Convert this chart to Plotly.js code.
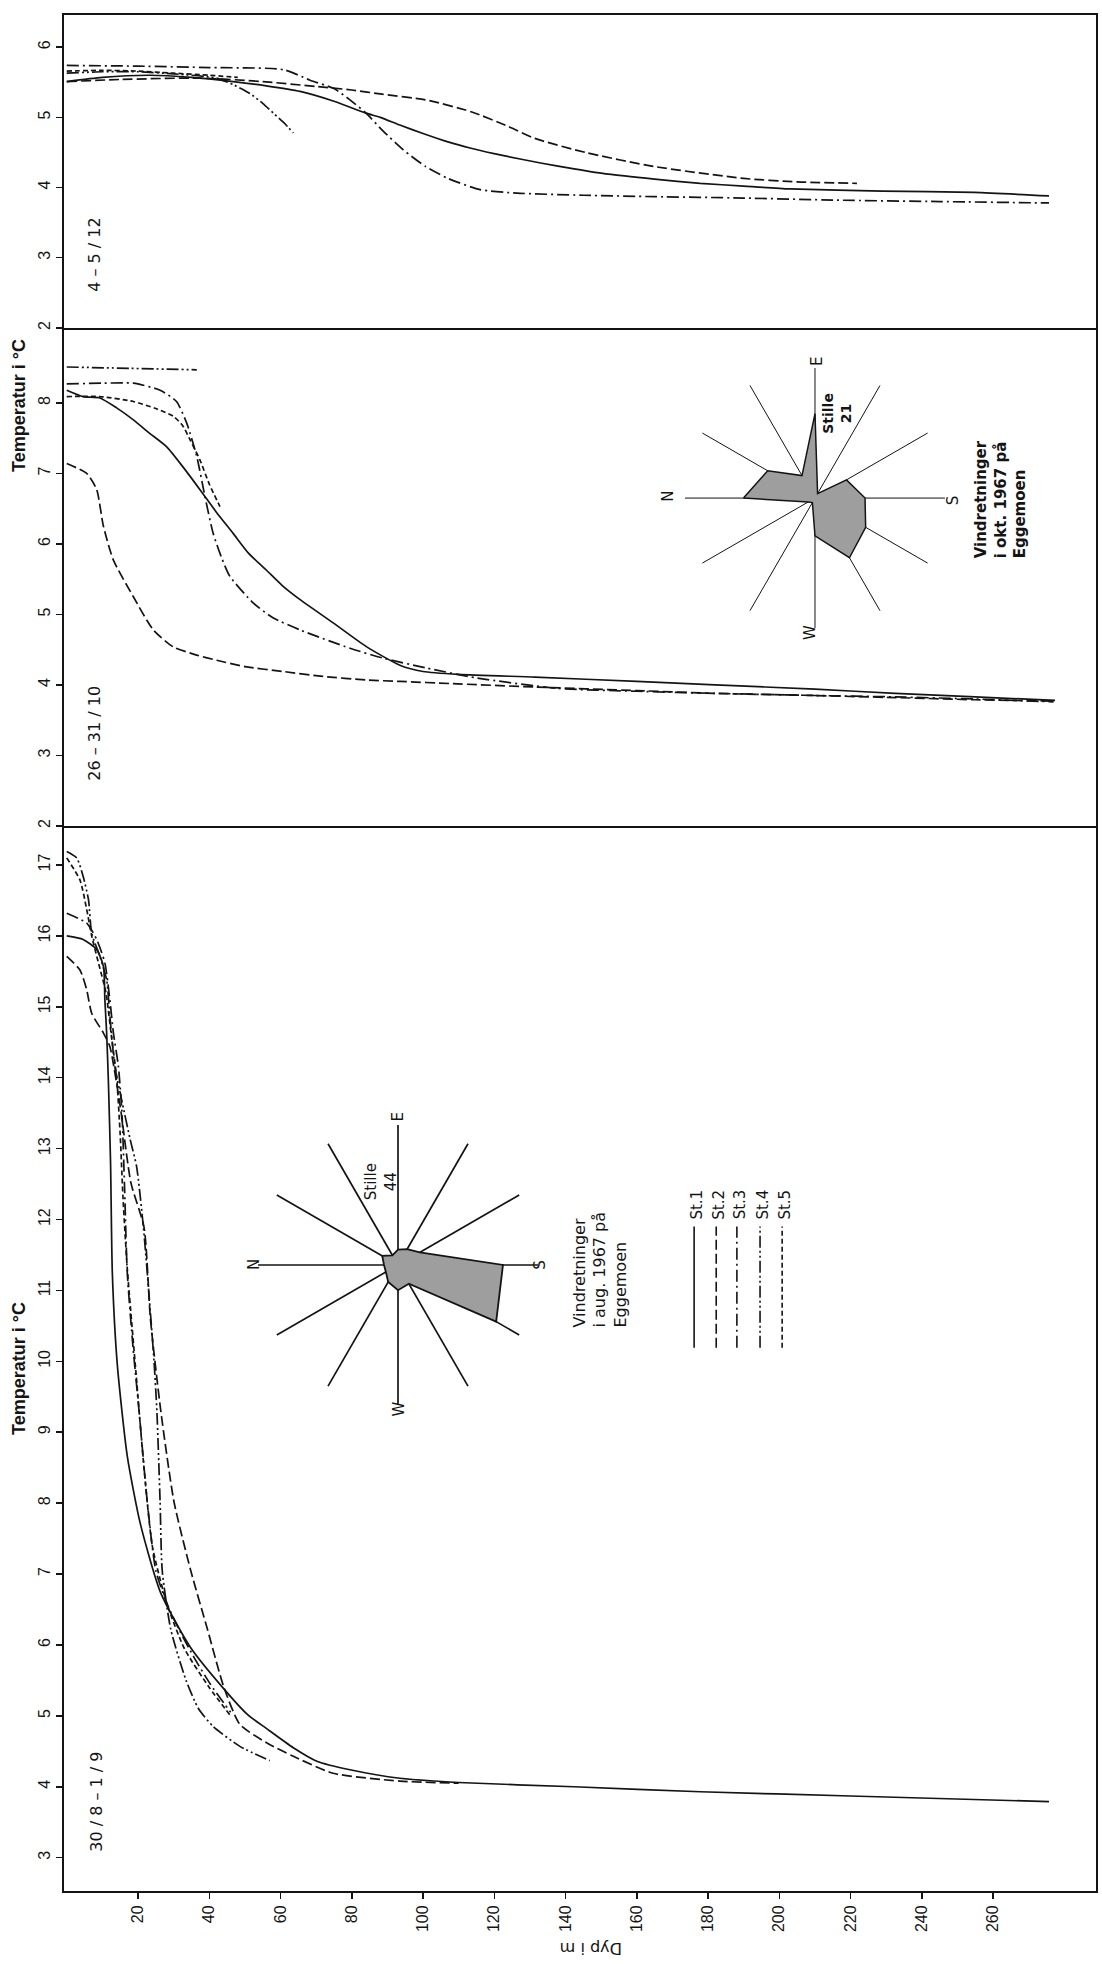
<!DOCTYPE html>
<html>
<head>
<meta charset="utf-8">
<script src="https://cdn.plot.ly/plotly-3.0.1.min.js"></script>
<style>
html,body{margin:0;padding:0;background:#fff;}
#chart{width:1102px;height:1964px;}
</style>
</head>
<body>
<div id="chart"></div>
<script>
// ---------- axis ticks ----------
const depthTicks = [20,40,60,80,100,120,140,160,180,200,220,240,260];
const tempTicksAug = [3,4,5,6,7,8,9,10,11,12,13,14,15,16,17];
const tempTicksOct = [2,3,4,5,6,7,8];
const tempTicksDec = [2,3,4,5,6];
const stationNames = ["St.1","St.2","St.3","St.4","St.5"];

// ---------- Panel 1 (top): 4-5/12 ----------
const dec_st1_depth = [0,10,23.4,35,46.7,56,65.5,75,84,88,93.5,100,107,113.5,123,133,142,152,165,177.8,190,203,229,254.7,275.7];
const dec_st1_temp  = [5.51,5.57,5.6,5.57,5.51,5.45,5.37,5.23,5.06,5.0,4.89,4.77,4.65,4.56,4.45,4.35,4.27,4.19,4.12,4.06,4.02,3.98,3.95,3.93,3.88];
const dec_st2_depth = [0,15,37.4,55,70,80,88.5,100.7,113.5,124,131.4,145.6,164.8,190,205,221.8];
const dec_st2_temp  = [5.51,5.54,5.56,5.51,5.44,5.39,5.33,5.25,5.08,4.87,4.70,4.50,4.30,4.13,4.08,4.06];
const dec_st3_depth = [0,20,40,60.8,68.3,75,79.5,84,88.9,94.4,100.7,107,116,126.4,145,164.8,190,216,245,275.7];
const dec_st3_temp  = [5.74,5.73,5.71,5.68,5.53,5.41,5.25,5.06,4.80,4.54,4.30,4.13,3.97,3.92,3.89,3.87,3.85,3.82,3.80,3.78];
const dec_st4_depth = [0,10,20,30,42,47,51.4,55,58,61,63.6];
const dec_st4_temp  = [5.63,5.65,5.65,5.62,5.56,5.46,5.34,5.20,5.06,4.92,4.78];
const dec_st5_depth = [0,10,20,30,40,48];
const dec_st5_temp  = [5.66,5.67,5.66,5.63,5.60,5.57];

// ---------- Panel 2 (middle): 26-31/10 ----------
const oct_st1_depth = [0,4.6,9.3,14,18.7,23,28,32.5,37.4,42,46.7,51,56,60.5,65.5,74.8,84.2,93.5,100,110,131.4,160,182,210,232.6,255,277.4];
const oct_st1_temp  = [8.18,8.09,8.07,7.93,7.76,7.58,7.38,7.10,6.77,6.45,6.15,5.87,5.63,5.41,5.21,4.88,4.54,4.28,4.19,4.15,4.11,4.05,4.0,3.94,3.88,3.83,3.78];
const oct_st2_depth = [0,5.6,8.4,10.3,13.1,18.7,24.3,29.9,36,42.1,50,60.8,72,84.2,93.5,107.6,131.4,160,182,210,232.6,255,277];
const oct_st2_temp  = [7.14,7.0,6.77,6.25,5.77,5.25,4.78,4.54,4.43,4.35,4.26,4.19,4.12,4.07,4.05,4.02,3.97,3.92,3.88,3.85,3.82,3.79,3.77];
const oct_st3_depth = [0,10,18.7,26.2,30.8,33.7,36.5,38.8,41.1,43.5,45.8,52.4,58,65.5,79.5,88.8,101,115,137.8,160,182,210,232.6,255,277];
const oct_st3_temp  = [8.27,8.28,8.28,8.18,8.02,7.71,7.24,6.67,6.15,5.80,5.54,5.16,4.95,4.78,4.52,4.38,4.24,4.10,3.95,3.91,3.88,3.85,3.83,3.80,3.76];
const oct_st4_depth = [0,18,36.5];
const oct_st4_temp  = [8.51,8.49,8.47];
const oct_st5_depth = [0,9.3,18.7,25,29.9,32.5,34.6,37.4,40,43];
const oct_st5_temp  = [8.09,8.09,8.02,7.92,7.81,7.68,7.48,7.19,6.85,6.53];

// ---------- Panel 3 (bottom): 30/8 - 1/9 ----------
const aug_st1_depth = [0,4.6,8.4,10.3,10.7,11.2,11.7,12.3,12.8,14.2,17,20.7,26.4,34.8,44.1,50.7,56.1,63.6,70.2,79.5,93.5,110,142.4,177.8,220,275.7];
const aug_st1_temp  = [16.0,15.95,15.81,15.57,15.1,14.63,13.93,12.8,11.24,9.95,8.66,7.70,6.73,5.96,5.38,5.02,4.82,4.55,4.36,4.24,4.12,4.06,4.0,3.93,3.87,3.79];
const aug_st2_depth = [0,3.7,5.6,7,10.3,12.1,15,18,21.7,23.5,26.4,30.1,34.8,39.5,44,48.6,56.1,63.6,74.8,93.5,110];
const aug_st2_temp  = [15.71,15.52,15.24,14.91,14.63,14.44,13.6,12.52,11.89,10.59,9.3,8.02,7.05,6.22,5.42,4.88,4.62,4.43,4.19,4.08,4.05];
const aug_st3_depth = [0,5.6,8.4,10.7,12.1,13.1,14.5,15.5,16.2,17,18.6,20.3,22.6,25,28,31.5,36,40.4,46];
const aug_st3_temp  = [16.32,16.18,15.95,15.62,15.1,14.63,14.16,13.5,12.5,11.24,10.2,9.3,8.02,7.05,6.6,6.22,5.8,5.44,5.05];
const aug_st4_depth = [0,2.8,4.6,6.1,7,9.3,11.2,12.1,13.5,15.4,17.8,19.6,21.5,23,24.5,25.3,26.2,26.8,29.2,33.5,37,41.1,48.6,57];
const aug_st4_temp  = [17.19,17.1,16.84,16.51,16.04,15.71,15.38,14.87,14.16,13.69,13.13,12.75,11.9,11.0,10.0,9.3,8.02,7.05,6.22,5.5,5.1,4.85,4.57,4.37];
const aug_st5_depth = [0,3.7,5.5,7,9,11,12.5,14,15,15.8,17,19.5,21.5,24,28,33,40,46];
const aug_st5_temp  = [17.1,16.79,16.4,16.0,15.6,15.2,14.6,14.0,13.2,12.3,11.3,9.8,8.6,7.4,6.6,5.95,5.4,5.0];

// ---------- Wind roses (relative frequency per 30° sector, N clockwise) ----------
const roseDirections = [0,30,60,90,120,150,180,210,240,270,300,330];
const roseAug = [1.0,1.3,0.8,1.1,1.3,1.8,7.5,8.1,1.55,1.8,1.4,1.0];
const roseOct = [5.5,4.2,2.0,6.5,0.4,2.8,3.85,4.5,5.3,2.9,0.4,0.6];
const stilleAug = 44;
const stilleOct = 21;

// ---------- styles ----------
const INK = '#141414';
const FONT = 'Liberation Sans, Arial, sans-serif';
const WFONT = 'DejaVu Sans, Liberation Sans, sans-serif';
const dashes = ['solid','10px,4px','12px,4px,2px,4px','12px,3px,2px,3px,2px,3px','5px,3px'];

const traces = [];
function addPanel(depths, temps, xa, ya) {
  for (let i = 0; i < depths.length; i++) {
    traces.push({
      type: 'scatter', mode: 'lines', x: depths[i], y: temps[i],
      xaxis: xa, yaxis: ya, name: stationNames[i], showlegend: false,
      hoverinfo: 'skip',
      line: {color: INK, width: 1.7, dash: dashes[i], shape: 'spline', smoothing: 0.6}
    });
  }
}
addPanel([aug_st1_depth,aug_st2_depth,aug_st3_depth,aug_st4_depth,aug_st5_depth],
         [aug_st1_temp,aug_st2_temp,aug_st3_temp,aug_st4_temp,aug_st5_temp],'x','y');
addPanel([oct_st1_depth,oct_st2_depth,oct_st3_depth,oct_st4_depth,oct_st5_depth],
         [oct_st1_temp,oct_st2_temp,oct_st3_temp,oct_st4_temp,oct_st5_temp],'x2','y2');
addPanel([dec_st1_depth,dec_st2_depth,dec_st3_depth,dec_st4_depth,dec_st5_depth],
         [dec_st1_temp,dec_st2_temp,dec_st3_temp,dec_st4_temp,dec_st5_temp],'x3','y3');

function closeRing(a){ return a.concat([a[0]]); }
traces.push({type:'scatterpolar', subplot:'polar', r: closeRing(roseAug), theta: closeRing(roseDirections),
  mode:'lines', fill:'toself', fillcolor:'rgb(158,158,158)',
  line:{color:INK,width:1.8}, showlegend:false, hoverinfo:'skip'});
traces.push({type:'scatterpolar', subplot:'polar2', r: closeRing(roseOct), theta: closeRing(roseDirections),
  mode:'lines', fill:'toself', fillcolor:'rgb(158,158,158)',
  line:{color:INK,width:1.5}, showlegend:false, hoverinfo:'skip'});

const yCommon = {
  tickmode:'array', tickangle: -90, ticks: 'outside', ticklen: 6, tickwidth: 1.5,
  tickcolor: INK, showline: true, linecolor: INK, linewidth: 2, mirror: true,
  showgrid: false, zeroline: false, tickfont: {family: FONT, size: 16, color: INK}
};
const xCommon = {
  range: [-0.77, 288.9], showgrid: false, zeroline: false, showline: true, linecolor: INK
};

function polarLayout(dom, spokeW) {
  return {
    domain: dom, bgcolor: 'rgba(0,0,0,0)',
    angularaxis: {rotation: 180, direction: 'clockwise', showline: false, showticklabels: false,
      ticks: '', showgrid: true, gridcolor: INK, gridwidth: spokeW, tickmode: 'linear', tick0: 0, dtick: 30},
    radialaxis: {visible: false, range: [0, 10]}
  };
}

const annFont = (s, fam) => ({family: fam || FONT, size: s, color: INK});
function rot(text, x, y, xref, yref, size, extra, fam) {
  return Object.assign({text: text, x: x, y: y, xref: xref, yref: yref, showarrow: false,
    textangle: -90, font: annFont(size, fam), xanchor: 'center', yanchor: 'middle'}, extra || {});
}

const annotations = [
  // axis titles
  rot('<b>Temperatur i °C</b>', -0.0436, 0.7916, 'paper', 'paper', 18),
  rot('<b>Temperatur i °C</b>', -0.0436, 0.2783, 'paper', 'paper', 18),
  {text: 'Dyp i m', x: 147, y: -0.031, xref: 'x', yref: 'paper', showarrow: false,
   textangle: 180, font: annFont(16, WFONT), xanchor: 'center', yanchor: 'middle'},
  // panel labels
  rot('4 – 5 / 12', 7.9, 3.04, 'x3', 'y3', 16, null, WFONT),
  rot('26 – 31 / 10', 7.9, 3.32, 'x2', 'y2', 16, null, WFONT),
  rot('30 / 8 – 1 / 9', 8.5, 3.79, 'x', 'y', 16, null, WFONT),
  // bottom rose texts
  rot('N', 52.6, 11.36, 'x', 'y', 15, null, WFONT),
  rot('E', 93, 13.44, 'x', 'y', 15, null, WFONT),
  rot('S', 132.8, 11.36, 'x', 'y', 15, null, WFONT),
  rot('W', 93, 9.32, 'x', 'y', 15, null, WFONT),
  rot('Stille<br>' + stilleAug, 88.3, 12.53, 'x', 'y', 15, null, WFONT),
  rot('Vindretninger<br>i aug. 1967 på<br>Eggemoen', 149.7, 10.45, 'x', 'y', 16, {yanchor: 'bottom', align: 'left'}, WFONT),
  // middle rose texts
  rot('N', 168.8, 6.67, 'x2', 'y2', 15, null, WFONT),
  rot('E', 210.6, 8.58, 'x2', 'y2', 15, null, WFONT),
  rot('S', 248.8, 6.62, 'x2', 'y2', 15, null, WFONT),
  rot('W', 208.6, 4.75, 'x2', 'y2', 15, null, WFONT),
  rot('<b>Stille<br>' + stilleOct + '</b>', 216.2, 7.86, 'x2', 'y2', 14, null, WFONT),
  rot('<b>Vindretninger<br>i okt. 1967 på<br>Eggemoen</b>', 262, 5.77, 'x2', 'y2', 15, {yanchor: 'bottom', align: 'left'}, WFONT)
];

// legend (drawn rotated like the rest of the figure)
const legendX = [176.1, 182.3, 188.1, 194.6, 200.8];
const shapes = [];
for (let i = 0; i < stationNames.length; i++) {
  shapes.push({type: 'line', xref: 'x', yref: 'y', x0: legendX[i], x1: legendX[i], y0: 10.19, y1: 11.9,
    line: {color: INK, width: 1.6, dash: dashes[i]}});
  annotations.push(rot(stationNames[i], legendX[i] + 0.8, 11.97, 'x', 'y', 15, {yanchor: 'bottom'}, WFONT));
}

const layout = {
  width: 1102, height: 1964,
  margin: {l: 64, r: 6, t: 15, b: 73},
  paper_bgcolor: '#fff', plot_bgcolor: '#fff',
  showlegend: false,
  font: {family: FONT, color: INK},
  xaxis: Object.assign({}, xCommon, {anchor: 'y', domain: [0, 1], tickmode: 'array', tickvals: depthTicks,
    ticktext: depthTicks.map(String), tickangle: -90, ticks: 'outside', ticklen: 6, tickwidth: 1.5, tickcolor: INK,
    linewidth: 2, tickfont: {family: FONT, size: 16, color: INK}}),
  xaxis2: Object.assign({}, xCommon, {anchor: 'y2', matches: 'x', showticklabels: false, ticks: '', linewidth: 1.6}),
  xaxis3: Object.assign({}, xCommon, {anchor: 'y3', matches: 'x', showticklabels: false, ticks: '', linewidth: 2, mirror: true}),
  yaxis: Object.assign({}, yCommon, {domain: [0, 0.5677], range: [2.53, 17.55], anchor: 'x', tickvals: tempTicksAug}),
  yaxis2: Object.assign({}, yCommon, {domain: [0.5677, 0.8332], range: [1.999, 9.064], anchor: 'x2', tickvals: tempTicksOct}),
  yaxis3: Object.assign({}, yCommon, {domain: [0.8332, 1], range: [1.999, 6.459], anchor: 'x3', tickvals: tempTicksDec}),
  polar: polarLayout({x: [0.188, 0.4593], y: [0.2591, 0.4083]}, 1.7),
  polar2: polarLayout({x: [0.6017, 0.8537], y: [0.6732, 0.8118]}, 1.0),
  annotations: annotations,
  shapes: shapes
};

Plotly.newPlot('chart', traces, layout, {staticPlot: true, displayModeBar: false});
</script>
</body>
</html>
